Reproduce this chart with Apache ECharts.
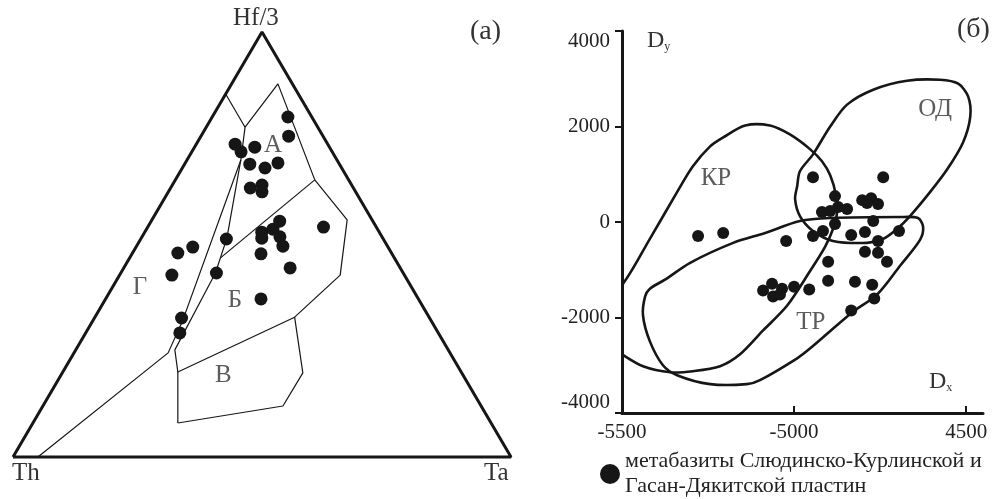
<!DOCTYPE html>
<html><head><meta charset="utf-8">
<script src="https://cdn.jsdelivr.net/npm/echarts@6/dist/echarts.min.js"></script>
<style>html,body{margin:0;padding:0;background:#fff}#c{width:996px;height:499px}</style>
</head><body><div id="c"></div>
<script>
// ===== Panel (a): ternary Th – Hf/3 – Ta ; each pair is [Hf/3 %, Ta %] (Th = 100 - Hf/3 - Ta)
const ternaryHf = [80.0,75.5,73.6,71.8,72.9,68.9,68.0,69.2,63.3,64.0,62.4,55.5,52.9,53.6,51.5,51.8,49.6,54.1,47.8,44.5,51.3,43.3,49.4,48.0,42.8,37.2,32.7,29.2];
const ternaryTa = [15.2,17.6,7.8,9.9,12.1,13.1,16.6,18.6,16.0,18.0,18.8,25.8,23.5,25.4,24.2,27.7,29.4,35.3,25.9,33.4,17.2,19.2,11.4,9.1,10.5,31.2,17.5,18.9];
const triangleFrame = [[0,0],[0,100],[100,0],[0,0]];
const lineGA = [[85.4,0],[77.6,7.8]];
const lineATop = [[77.6,7.8],[87.8,9.3],[65.2,28.0]];
const lineBRight = [[65.2,28.0],[55.8,39.2],[42.8,44.3],[32.9,40.1]];
const lineAB = [[65.2,28.0],[46.8,18.2]];
const lineL1 = [[77.6,7.8],[69.9,10.8],[32.2,18.0],[24.5,18.9],[0,5.0]];
const lineL2 = [[69.9,10.8],[51.5,17.2],[43.3,19.0],[25.2,19.9],[20.0,23.1],[8.0,29.1]];
const lineV = [[20.0,23.1],[32.9,40.1],[19.8,48.3],[12.0,48.2],[8.0,29.1]];
const ternaryFieldNames = ['А','Б','В','Г'];
const ternaryFieldPos = [[73.4,15.5],[36.9,26.1],[19.3,32.6],[40.0,5.5]];

// ===== Panel (б): Dx – Dy
const dxValues = [-4945,-4741,-4881,-4919,-4895,-4872,-4846,-4802,-4776,-4788,-4756,-4881,-4770,-5279,-5206,-5023,-4945,-4916,-4834,-4794,-4756,-4695,-4794,-4756,-4730,-4901,-4901,-4823,-4773,-4767,-4834,-4956,-5000,-5035,-5064,-5090,-5061,-5041];
const dyValues = [937,937,542,208,229,312,271,458,500,396,375,-42,21,-292,-229,-396,-292,-187,-271,-208,-396,-187,-625,-646,-833,-833,-1229,-1250,-1312,-1604,-1854,-1416,-1354,-1396,-1292,-1437,-1562,-1520];
const outlineKR = [[-5560,-1708],[-5497,-1292],[-5419,-354],[-5340,625],[-5294,1166],[-5244,1583],[-5206,1771],[-5142,2021],[-5070,2021],[-5012,1833],[-4953,1521],[-4919,1271],[-4895,979],[-4878,562],[-4875,208],[-4887,-146],[-4910,-521],[-4953,-1021],[-5020,-1750],[-5090,-2271],[-5157,-2771],[-5215,-3021],[-5294,-3125],[-5360,-3146],[-5439,-3021],[-5500,-2771],[-5570,-2437]];
const outlineOD = [[-4997,479],[-4991,750],[-4983,1062],[-4945,1416],[-4895,2000],[-4846,2458],[-4770,2771],[-4672,2958],[-4576,2979],[-4523,2896],[-4494,2625],[-4488,2208],[-4509,1667],[-4555,1104],[-4605,625],[-4663,125],[-4701,-146],[-4741,-354],[-4788,-437],[-4887,-396],[-4945,-187],[-4983,125]];
const outlineTR = [[-5433,-1562],[-5419,-1396],[-5375,-1208],[-5302,-854],[-5177,-437],[-5084,-229],[-4983,21],[-4895,83],[-4692,104],[-4640,83],[-4625,-104],[-4634,-375],[-4692,-917],[-4759,-1521],[-4828,-1875],[-4953,-2646],[-4991,-2854],[-5099,-3312],[-5137,-3396],[-5244,-3396],[-5340,-3208],[-5381,-3000],[-5419,-2500],[-5439,-1958]];
const fieldNamesB = ['КР','ОД','ТР'];
const fieldPosB = [[-5227,917],[-4590,2354],[-4951,-2104]];
const xTickValues = [-5500,-5000,-4500];
const xTickLabels = ['-5500','-5000','4500'];
const yTickValues = [-4000,-2000,0,2000,4000];
const yTickLabels = ['-4000','-2000','0','2000','4000'];
const legendName = 'метабазиты Слюдинско-Курлинской и\nГасан-Дякитской пластин';

const FONT = 'Liberation Serif';
const INK = '#161616';
function tern(p){ return [(p[1] + p[0]/2)/100, p[0]/100]; }

const chart = echarts.init(document.getElementById('c'));
const series = [];
function tline(arr, w){
  series.push({type:'line', xAxisIndex:0, yAxisIndex:0, data: arr.map(tern), symbol:'none', clip:false,
    silent:true, lineStyle:{color:INK, width:w}, z:2});
}
tline(triangleFrame, 3);
[lineGA,lineATop,lineBRight,lineAB,lineL1,lineL2,lineV].forEach(a=>tline(a,1.2));
series.push({type:'scatter', name:legendName, xAxisIndex:0, yAxisIndex:0, clip:false, symbolSize:13,
  itemStyle:{color:INK, opacity:1}, data: ternaryHf.map((h,i)=>tern([h, ternaryTa[i]])), z:5});
series.push({type:'scatter', xAxisIndex:0, yAxisIndex:0, clip:false, symbolSize:0, silent:true,
  data: ternaryFieldNames.map((n,i)=>({name:n, value:tern(ternaryFieldPos[i])})),
  label:{show:true, position:'inside', formatter:'{b}', fontFamily:FONT, fontSize:25, color:'#333'}});

const outlines = [outlineKR, outlineOD, outlineTR];
series.push({type:'custom', xAxisIndex:1, yAxisIndex:1, clip:true, silent:true,
  data: outlines.map((o,i)=>[-5000,0,i]), encode:{x:0,y:1},
  renderItem: function(params, api){
    const pts = outlines[api.value(2)].map(p=>api.coord(p));
    return {type:'polygon', shape:{points:pts, smooth:0.3}, style:{fill:'none', stroke:INK, lineWidth:2.6}};
  }, z:2});
series.push({type:'scatter', name:legendName, xAxisIndex:1, yAxisIndex:1, symbolSize:12,
  itemStyle:{color:INK, opacity:1}, data: dxValues.map((x,i)=>[x, dyValues[i]]), z:5});
series.push({type:'scatter', xAxisIndex:1, yAxisIndex:1, symbolSize:0, silent:true,
  data: fieldNamesB.map((n,i)=>({name:n, value:fieldPosB[i]})),
  label:{show:true, position:'inside', formatter:'{b}', fontFamily:FONT, fontSize:25, color:'#333'}});

chart.setOption({
  animation:false,
  backgroundColor:'#fff',
  grid:[
    {left:13, top:32, width:498, height:425},
    {left:622, top:31, width:361, height:382}
  ],
  xAxis:[
    {gridIndex:0, type:'value', min:0, max:1, show:false},
    {gridIndex:1, type:'value', min:-5500, max:-4451, interval:500,
      axisLine:{show:true, onZero:false, lineStyle:{color:INK, width:3}},
      axisTick:{show:true, inside:true, length:7, customValues:xTickValues, lineStyle:{color:INK, width:2}},
      axisLabel:{customValues:xTickValues, formatter:v=>xTickLabels[xTickValues.indexOf(v)] ?? '', margin:9,
        fontFamily:FONT, fontSize:21, color:'#222'},
      splitLine:{show:false}}
  ],
  yAxis:[
    {gridIndex:0, type:'value', min:0, max:1, show:false},
    {gridIndex:1, type:'value', min:-4000, max:4000, interval:2000,
      axisLine:{show:true, onZero:false, lineStyle:{color:INK, width:3}},
      axisTick:{show:true, inside:false, length:7, customValues:yTickValues, lineStyle:{color:INK, width:2}},
      axisLabel:{customValues:yTickValues, formatter:v=>yTickLabels[yTickValues.indexOf(v)] ?? '', margin:12,
        fontFamily:FONT, fontSize:21, color:'#222',
        verticalAlignMaxLabel:'top', verticalAlignMinLabel:'bottom'},
      splitLine:{show:false}}
  ],
  legend:{data:[legendName], left:600, top:449, padding:0, itemWidth:20, itemHeight:20, icon:'circle',
    selectedMode:false, itemStyle:{color:INK, opacity:1},
    textStyle:{fontFamily:FONT, fontSize:22, color:'#222', lineHeight:25}},
  graphic:[
    {type:'text', left:233, top:6, style:{text:'Hf/3', font:'25px "Liberation Serif"', fill:'#333'}},
    {type:'text', left:12, top:461, style:{text:'Th', font:'25px "Liberation Serif"', fill:'#333'}},
    {type:'text', left:484, top:461, style:{text:'Ta', font:'25px "Liberation Serif"', fill:'#333'}},
    {type:'text', left:470, top:18, style:{text:'(a)', font:'28px "Liberation Serif"', fill:'#333'}},
    {type:'text', left:957, top:16, style:{text:'(б)', font:'28px "Liberation Serif"', fill:'#333'}},
    {type:'text', left:647, top:29, style:{text:'{d|D}{s|y}', rich:{d:{font:'24px "Liberation Serif"', fill:'#333'}, s:{font:'12px "Liberation Serif"', fill:'#333', padding:[12,0,0,0]}}}},
    {type:'text', left:929, top:370, style:{text:'{d|D}{s|x}', rich:{d:{font:'24px "Liberation Serif"', fill:'#333'}, s:{font:'12px "Liberation Serif"', fill:'#333', padding:[12,0,0,0]}}}}
  ],
  series: series
});
</script></body></html>
